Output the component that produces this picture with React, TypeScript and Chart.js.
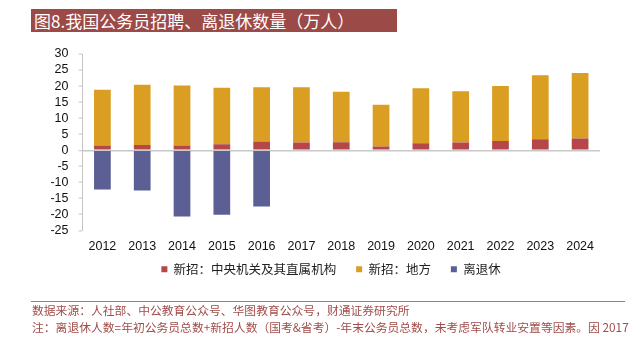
import React, { useEffect, useRef } from "react";
import { Chart, registerables } from "chart.js";
Chart.register(...registerables);

const years = ["2012", "2013", "2014", "2015", "2016", "2017", "2018", "2019", "2020", "2021", "2022", "2023", "2024"];
const centralHires = [1.45, 1.65, 1.45, 1.9, 2.7, 2.4, 2.5, 1.15, 2.2, 2.4, 2.9, 3.4, 3.65];
const localHires = [17.4, 18.75, 18.75, 17.6, 16.9, 17.2, 15.7, 13.05, 17.1, 16.0, 17.1, 20.0, 20.45];
const retirees = [-12.2, -12.5, -20.6, -20.1, -17.5, null, null, null, null, null, null, null, null];
const yTicks = { min: -25, max: 30, step: 5 };
const seriesNames = ["新招：中央机关及其直属机构", "新招：地方", "离退休"];
const titleText = "图8.我国公务员招聘、离退休数量（万人）";
const sourceText = "数据来源：人社部、中公教育公众号、华图教育公众号，财通证券研究所";
const noteText = "注：离退休人数=年初公务员总数+新招人数（国考&省考）-年末公务员总数，未考虑军队转业安置等因素。因 2017";

const legendPlacer = {
  id: "legendPlacer",
  afterLayout(chart: any) {
    const lg = chart.legend;
    if (!lg) return;
    const dx = 31;
    lg.left += dx;
    lg.right += dx;
    const targetTop = 243;
    const dy = targetTop - lg.top;
    lg.top += dy;
    lg.bottom += dy;
  },
};

export default function App() {
  const ref = useRef<HTMLCanvasElement | null>(null);
  useEffect(() => {
    if (!ref.current) return;
    const tickFont = { family: "'Liberation Sans', Arial, sans-serif", size: 12.5 };
    const chart = new Chart(ref.current, {
      type: "bar",
      data: {
        labels: years,
        datasets: [
          { label: seriesNames[0], data: centralHires, backgroundColor: "#b5464a", borderWidth: 0, barPercentage: 0.42, categoryPercentage: 1 },
          { label: seriesNames[1], data: localHires, backgroundColor: "#d99e22", borderWidth: 0, barPercentage: 0.42, categoryPercentage: 1 },
          { label: seriesNames[2], data: retirees as any, backgroundColor: "#5b5f93", borderWidth: 0, barPercentage: 0.42, categoryPercentage: 1 },
        ],
      },
      plugins: [legendPlacer],
      options: {
        responsive: false,
        animation: false,
        layout: { padding: { left: 0, right: 41, top: 54, bottom: 41 } },
        plugins: {
          tooltip: { enabled: false },
          legend: {
            position: "bottom",
            labels: {
              boxWidth: 6,
              boxHeight: 6,
              padding: 20,
              color: "#222",
              font: { family: "'Noto Sans CJK SC', sans-serif", size: 12.5 },
            },
          },
        },
        scales: {
          x: {
            stacked: true,
            grid: { display: false, drawTicks: false },
            border: { display: false },
            ticks: { font: tickFont, color: "#111", padding: 9 },
            afterFit: (s: any) => { s.height = 24; },
          },
          y: {
            stacked: true,
            min: yTicks.min,
            max: yTicks.max,
            ticks: { stepSize: yTicks.step, font: tickFont, color: "#111", padding: 10, autoSkip: false },
            grid: {
              color: (c: any) => (c.tick && c.tick.value === 0 ? "#c8c8c8" : "rgba(0,0,0,0)"),
              lineWidth: (c: any) => (c.tick && c.tick.value === 0 ? 1.5 : 0),
              tickColor: "#c4c4c4",
              tickWidth: 1,
              tickLength: 4,
            },
            border: { color: "#c4c4c4", width: 1 },
            afterFit: (s: any) => { s.width = 82.5; },
          },
        },
      },
    });
    return () => chart.destroy();
  }, []);

  const cjk = "'Noto Sans CJK SC', serif";
  return (
    <div style={{ position: "fixed", left: 0, top: 0, width: 641, height: 338, background: "#fff", overflow: "hidden" }}>
      <div style={{ position: "absolute", left: 31, top: 9, width: 366, height: 23, background: "#9c4a47", color: "#fff", fontFamily: cjk, fontSize: 17, lineHeight: "23px", paddingLeft: 3, boxSizing: "border-box", whiteSpace: "nowrap" }}>
        {titleText}
      </div>
      <canvas ref={ref} width={641} height={338} style={{ position: "absolute", left: 0, top: 0, width: 641, height: 338 }} />
      <div style={{ position: "absolute", left: 31, top: 301, width: 594, borderTop: "1px solid #b8716d" }} />
      <div style={{ position: "absolute", left: 32, top: 302, color: "#a04c49", fontFamily: cjk, fontSize: 11.8, lineHeight: "16.5px", whiteSpace: "nowrap" }}>
        <div>{sourceText}</div>
        <div>{noteText}</div>
      </div>
    </div>
  );
}
